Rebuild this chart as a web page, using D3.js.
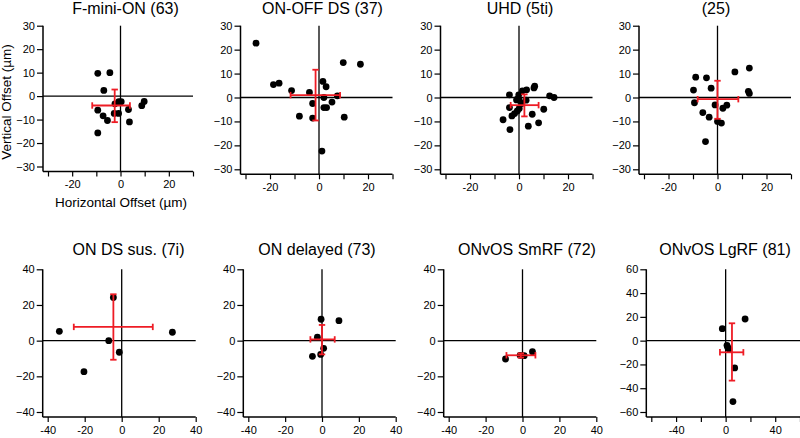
<!DOCTYPE html>
<html>
<head>
<meta charset="utf-8">
<script src="https://cdn.jsdelivr.net/npm/d3@7"></script>
<style>
  body { margin: 0; background: #fff; }
  svg { font-family: "Liberation Sans", Arial, sans-serif; }
  .tick text { font-size: 11px; fill: #000; }
  .tick line { stroke: #000; stroke-width: 1.2; }
</style>
</head>
<body>
<div id="chart"></div>
<script>
// ---- data (offsets in µm) ----
var titles = ["F-mini-ON (63)", "ON-OFF DS (37)", "UHD (5ti)", "(25)",
              "ON DS sus. (7i)", "ON delayed (73)", "ONvOS SmRF (72)", "ONvOS LgRF (81)"];

var fMiniOn = [[-9.4,9.7],[-4.4,10],[-6.9,2.4],[-9.4,-6],[-7.2,-8.4],[-5.4,-10.4],[-9.4,-15.7],
  [-2.3,-3.3],[-2.6,-7.4],[-0.8,-7.4],[-0.7,-2.4],[0.3,-2.4],[3.3,-5.7],[3.7,-11],[8.8,-4.1],[9.8,-2.3]];
var onOffDS = [[-25.7,22.7],[-18.6,5.4],[-16.3,6],[-11.2,2.9],[-3.9,2.1],[-2.6,-2.5],[-8,-7.8],
  [-2.6,-8.6],[1.6,6.7],[2.9,4.5],[2,0],[2,-4.2],[3.1,-4.2],[5.3,-1.9],[7.5,0.7],[9.9,14.6],
  [16.9,13.9],[10.3,-8.2],[1.2,-22.4]];
var uhd = [[-3.9,1.1],[-0.1,1.1],[-0.7,-0.7],[0.1,-1.1],[-1,-1],[1.4,2.8],[3.1,3.2],[6.1,4],[6.4,4.7],
  [2.9,-1.1],[-3.9,-4.2],[0.1,-4.6],[-0.7,-5.6],[-1.8,-6.7],[-2.9,-7.7],[-6.5,-9.3],[-3.7,-13.4],
  [3.8,-12],[5.4,-7],[8,-10.6],[10.1,-4.9],[12.5,0.7],[14.3,0],[1.1,-2.5]];
var type25 = [[-8.9,8.5],[-4.5,8.2],[-9.8,3.1],[-2.6,3.9],[-9.4,-2.2],[-6,-6.3],[-3.4,-8.2],[-1,-3.1],
  [0,-10],[1.6,-10.7],[2.2,-4.5],[3.8,-3.2],[-4.9,-18.4],[7.1,10.7],[13,12.3],[12.6,2.6],[13,1.7]];
var onDSsus = [[-33.7,5.2],[-7,0],[-4.5,24.2],[-1.3,-6.5],[-20.4,-17.4],[27.4,4.7]];
var onDelayed = [[-0.5,12],[9.2,11.2],[-2.5,1.9],[0.9,-4.3],[-5.2,-8.8],[-0.7,-7.7]];
var onvosSm = [[-9.2,-10.3],[0.9,-8.4],[5.4,-6.2],[-1.3,-8.2]];
var onvosLg = [[-2.7,10.1],[15.7,18.2],[1.1,-3.9],[1.6,-5.6],[2.7,-7],[7.3,-22.9],[5.9,-51.2]];

var points = [fMiniOn, onOffDS, uhd, type25, onDSsus, onDelayed, onvosSm, onvosLg];

// mean position and error-bar extents
var meanXY = [[-2.4,-4],[-1.4,1.0],[2.2,-3.2],[0,-0.7],[-4.5,7.7],[0,0.7],[-0.9,-8.2],[5.1,-9.8]];
var errX = [[-11.7,3.9],[-11.6,8.6],[-3.4,8.0],[-8.1,8.5],[-25.9,16.8],[-6.3,6.9],[-8.7,7.0],[-4.6,14.3]];
var errY = [[-11.1,2.8],[-9.6,11.6],[-7.9,1.3],[-8.9,7],[-10.7,26],[-7.7,8.8],[-9.5,-7.1],[-33.6,14.6]];

var domains = [30, 30, 30, 30, 40, 40, 40, 60];
var xTicks = [d3.range(-30, 31, 10), d3.range(-40, 41, 20), d3.range(-60, 61, 20)];
var xLabels = [[-20, 0, 20], [-40, -20, 0, 20, 40], [-40, 0, 40]];
var yTicks = [d3.range(-30, 31, 10), d3.range(-40, 41, 20), d3.range(-60, 61, 20)];

// ---- layout ----
var width = 800, height = 438, off = 5;
var lefts = [48, 245.5, 445.5, 644, 47.7, 248.3, 448.7, 651.3];
var plotW = [145, 147, 147, 147, 148, 147.4, 147.6, 148.7];
var tops = [25.7, 25.7, 25.7, 25.7, 269.3, 269.3, 269.3, 269.3];
var bottoms = [166.5, 169.3, 169.3, 169.3, 412, 412, 412, 412];
var titleX = [125.5, 322.5, 520, 716, 128.5, 317, 527, 725];
var titleY = [13.5, 13.5, 13.5, 13.5, 255, 255, 255, 255];
var red = "#ee1c25";

var svg = d3.select("#chart").append("svg")
    .attr("width", width)
    .attr("height", height);

points.forEach(function(pts, i) {
  var dm = domains[i],
      k = i < 4 ? 0 : (i < 7 ? 1 : 2);

  var x = d3.scaleLinear().domain([-dm, dm]).range([lefts[i], lefts[i] + plotW[i]]);
  var y = d3.scaleLinear().domain([-dm, dm]).range([bottoms[i], tops[i]]);

  var g = svg.append("g");
  var axLeft = lefts[i] - off,
      axBottom = bottoms[i] + off,
      right = lefts[i] + plotW[i];

  // ticks
  g.append("g")
      .attr("transform", "translate(" + axLeft + ",0)")
      .call(d3.axisLeft(y).tickValues(yTicks[k]).tickSize(6).tickPadding(2).tickFormat(d3.format("d")))
      .call(function(a) { a.select(".domain").remove(); });

  g.append("g")
      .attr("transform", "translate(0," + axBottom + ")")
      .call(d3.axisBottom(x).tickValues(xTicks[k]).tickSize(5).tickPadding(4)
        .tickFormat(function(d) { return xLabels[k].indexOf(d) >= 0 ? d : ""; }))
      .call(function(a) { a.select(".domain").remove(); });

  // axis lines
  g.append("line").attr("x1", axLeft).attr("x2", axLeft)
      .attr("y1", tops[i]).attr("y2", axBottom)
      .attr("stroke", "#000").attr("stroke-width", 1.5);
  g.append("line").attr("x1", axLeft).attr("x2", right)
      .attr("y1", axBottom).attr("y2", axBottom)
      .attr("stroke", "#000").attr("stroke-width", 1.5);

  // zero crosshair
  g.append("line").attr("x1", x(0)).attr("x2", x(0))
      .attr("y1", tops[i]).attr("y2", axBottom)
      .attr("stroke", "#000").attr("stroke-width", 1.3);
  g.append("line").attr("x1", axLeft).attr("x2", right)
      .attr("y1", y(0)).attr("y2", y(0))
      .attr("stroke", "#000").attr("stroke-width", 1.3);

  // cells
  g.selectAll("circle")
      .data(pts)
    .enter().append("circle")
      .attr("cx", function(d) { return x(d[0]); })
      .attr("cy", function(d) { return y(d[1]); })
      .attr("r", 3.4)
      .attr("fill", "#000");

  // mean +/- error
  var eb = g.append("g").attr("stroke", red).attr("stroke-width", 1.8).attr("fill", "none");
  var mx = meanXY[i][0], my = meanXY[i][1], cap = 3.2;
  eb.append("line").attr("x1", x(errX[i][0])).attr("x2", x(errX[i][1]))
      .attr("y1", y(my)).attr("y2", y(my));
  eb.append("line").attr("x1", x(mx)).attr("x2", x(mx))
      .attr("y1", y(errY[i][0])).attr("y2", y(errY[i][1]));
  errX[i].forEach(function(v) {
    eb.append("line").attr("x1", x(v)).attr("x2", x(v))
        .attr("y1", y(my) - cap).attr("y2", y(my) + cap);
  });
  errY[i].forEach(function(v) {
    eb.append("line").attr("x1", x(mx) - cap).attr("x2", x(mx) + cap)
        .attr("y1", y(v)).attr("y2", y(v));
  });

  svg.append("text")
      .attr("x", titleX[i])
      .attr("y", titleY[i])
      .attr("text-anchor", "middle")
      .style("font-size", "16px")
      .text(titles[i]);
});

// axis titles
svg.append("text")
    .attr("transform", "translate(11,102) rotate(-90)")
    .attr("text-anchor", "middle")
    .style("font-size", "13.5px")
    .text("Vertical Offset (µm)");

svg.append("text")
    .attr("x", 121)
    .attr("y", 207)
    .attr("text-anchor", "middle")
    .style("font-size", "13.5px")
    .text("Horizontal Offset (µm)");
</script>
</body>
</html>
